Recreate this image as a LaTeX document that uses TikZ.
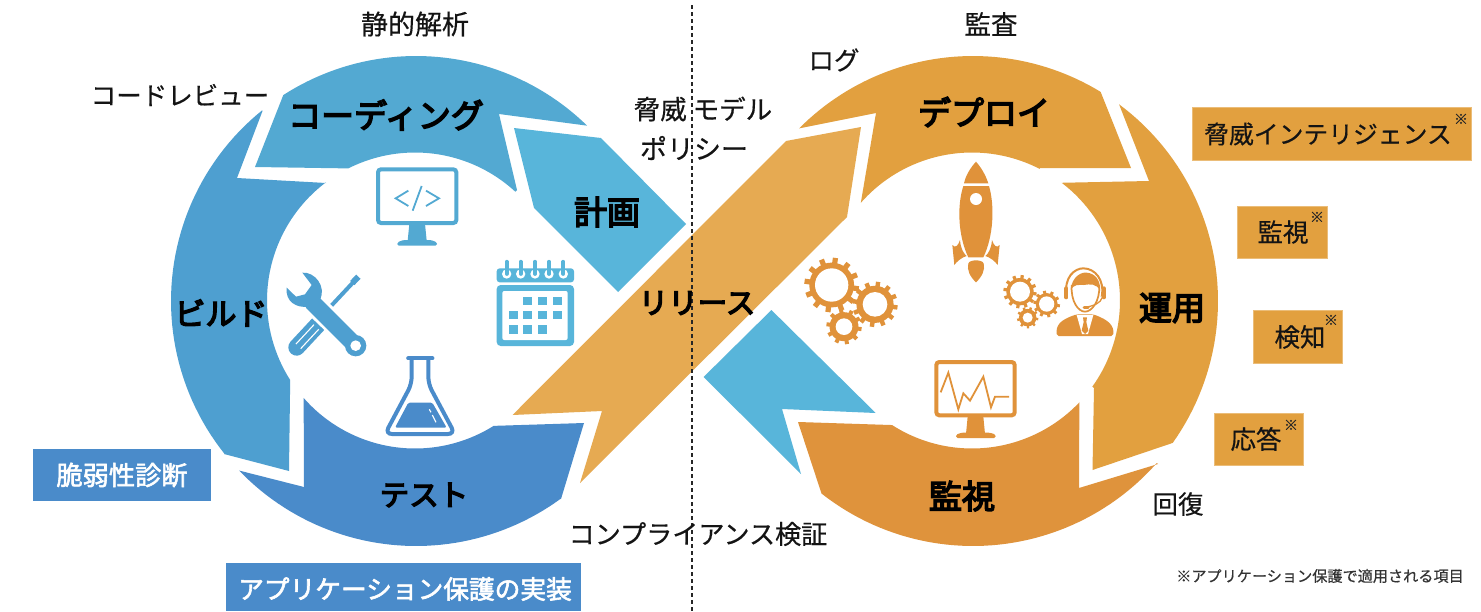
\documentclass[tikz,border=0pt]{standalone}
\usepackage{fontspec}
\setmainfont{Noto Sans CJK JP}[FakeBold=0.4]
\newfontfamily\heavyf{Noto Sans CJK JP}[FakeBold=4.5]
\newfontfamily\midf{Noto Sans CJK JP}[FakeBold=2.2]
\definecolor{cCode}{HTML}{53A9D2}
\definecolor{cBuild}{HTML}{4E9FD0}
\definecolor{cTest}{HTML}{4A8BCA}
\definecolor{cPlan}{HTML}{58B5DA}
\definecolor{cRel}{HTML}{E6AA52}
\definecolor{cDep}{HTML}{E2A03F}
\definecolor{cMon}{HTML}{DF933C}
\definecolor{cIcon}{HTML}{E0923A}
\newcommand\sz[1]{\fontsize{#1}{#1}\selectfont}
\tikzset{
  lab/.style={inner sep=0pt,text=black!92,font=\sz{25.5}},
  main/.style={inner sep=0pt,text=black,font=\heavyf\sz{33}},
  tagbox/.style={fill=cDep,draw=cDep!70!white,line width=0.4pt},
  bluebox/.style={fill=cTest},
  star/.style={inner sep=0pt,text=black!85,font=\sz{14}},
  zCode/.style={shift={(270,160)},x=0.33333pt,y=-0.33333pt},
  zDep/.style={shift={(790,150)},x=0.33333pt,y=-0.33333pt},
  zMan/.style={shift={(1050,260)},x=0.33333pt,y=-0.33333pt},
}
\newcommand\gearicon[6]{%
  \fill[cIcon] (#1,#2) circle[radius=#3*0.82];
  \foreach \i in {1,...,#5}{%
    \pgfmathsetmacro\ang{\i*360/#5+8}
    \draw[cIcon,line width=#6pt] ({#1+#3*0.7*cos(\ang)},{#2+#3*0.7*sin(\ang)}) -- ({#1+#3*cos(\ang)},{#2+#3*sin(\ang)});
  }
  \fill[white] (#1,#2) circle[radius=#4];
}
\begin{document}
\begin{tikzpicture}[x=1pt,y=-1pt]
\fill[white] (0,0) rectangle (1481,611);
\useasboundingbox (0,0) rectangle (1481,611);
% left ring
\fill[cCode] plot[domain=237.2:314.3,samples=50] ({416+245*cos(\x)},{301+245*sin(\x)}) -- (499,114) -- (517,190)
  -- plot[domain=312.7:243.2,samples=40] ({415+148*cos(\x)},{300.5+148*sin(\x)}) -- (255,167) -- cycle;
\fill[cBuild] (262.5,111) -- (237,178) -- (326,183)
  -- plot[domain=232.9:147.5,samples=40] ({415+148*cos(\x)},{300.5+148*sin(\x)}) -- (289,471) -- (224,454)
  -- plot[domain=141.4:231.1,samples=50] ({416+245*cos(\x)},{301+245*sin(\x)}) -- cycle;
\fill[cTest] plot[domain=138.8:57.9,samples=40] ({415+148*cos(\x)},{300.5+148*sin(\x)}) -- (584,423) -- (561,499)
  -- plot[domain=53.8:136.2,samples=50] ({416+245*cos(\x)},{301+245*sin(\x)}) -- (304,487) -- cycle;
\fill[cPlan] (514,128) -- (601,138) -- (686,224) -- (618,292) -- (534,208) -- cycle;
% right ring
\fill[cRel] (512.5,415) -- (786,141) -- (861,127) -- (847,217) -- (580,483) -- (602,411) -- cycle;
\fill[cPlan] (771.4,310) -- (875.7,413) -- (782,409) -- (801,474) -- (703.6,377) -- cycle;
\fill[cDep] plot[domain=224.8:301.4,samples=50] ({973+245*cos(\x)},{301+245*sin(\x)}) -- (1131,168) -- (1040,168)
  -- plot[domain=297.2:221.3,samples=40] ({972+148*cos(\x)},{300.5+148*sin(\x)}) -- (876,113) -- cycle;
\fill[cDep] plot[domain=-53.4:35.4,samples=50] ({973+245*cos(\x)},{301+245*sin(\x)}) -- (1092.5,470) -- (1094,388)
  -- plot[domain=35.6:-52.7,samples=40] ({972+148*cos(\x)},{300.5+148*sin(\x)}) -- (1149,181) -- cycle;
\fill[cMon] (798,422) -- plot[domain=122.7:43.5,samples=40] ({972+148*cos(\x)},{300.5+148*sin(\x)}) -- (1079,488) -- (1158,464)
  -- plot[domain=41.4:128.2,samples=50] ({973+245*cos(\x)},{301+245*sin(\x)}) -- cycle;
% divider
\draw[black!85,line width=1.3pt,dash pattern=on 4pt off 3pt] (692,5) -- (692,611);
% code monitor
\begin{scope}[zCode]
  \draw[cCode,line width=4pt,rounded corners=3pt] (324,28) rectangle (559,189);
  \fill[cCode] (418,192) -- (465,192) -- (470,242) -- (413,242) -- cycle;
  \fill[cCode,rounded corners=1.5pt] (382,257) -- (382,247) -- (400,240) -- (483,240) -- (501,247) -- (501,257) -- cycle;
  \draw[cCode,line width=1.8pt] (415,92) -- (377,115) -- (415,138);
  \draw[cCode,line width=1.8pt] (468,92) -- (507,115) -- (468,138);
  \draw[cCode,line width=1.8pt] (455,78) -- (428,152);
  % calendar
  \fill[cPlan,rounded corners=4pt] (680,375) rectangle (912,558);
  \fill[white,rounded corners=2pt] (697,393) rectangle (893,540);
  \fill[cPlan,rounded corners=3pt] (680,325) rectangle (912,367);
  \foreach \px in {710,752,795,837,880}{
    \fill[white] (\px,342) circle[radius=14];
    \draw[cPlan,line width=3.7pt,line cap=round] (\px,305) -- (\px,342);
  }
  \foreach \px/\py in {773/423,817/423,862/423,730/465,773/465,817/465,862/465,730/509,773/509,817/509}{
    \fill[cPlan] (\px-13,\py-13) rectangle (\px+13,\py+13);
  }
  % screwdriver
  \draw[cBuild,line width=4pt] (258,358) -- (185,436);
  \draw[cBuild,line width=6pt] (265,350) -- (247,369);
  \draw[cBuild,line width=16.7pt,line cap=round] (80,562) -- (147,490);
  \draw[white,line width=1.1pt] (78,552) -- (132,494);
  \draw[white,line width=1.1pt] (92,566) -- (146,508);
  % wrench
  \draw[white,line width=21pt] (120,425) -- (240,540);
  \draw[cBuild,line width=16.7pt] (125,425) -- (257,557);
  \fill[cBuild] (97,338) .. controls (135,335) and (170,380) .. (150,420) -- (115,440)
    .. controls (80,445) and (45,425) .. (50,383) -- (78,410) -- (105,403) -- (125,375) -- cycle;
  \fill[cBuild] (257,557) circle[radius=32];
  \fill[white] (257,557) circle[radius=16];
  % flask
  \draw[cTest,line width=4.3pt,line cap=round] (415,595) -- (487,595);
  \draw[cTest,line width=4pt,rounded corners=7pt] (425,598) -- (425,672) -- (345,822) -- (555,822) -- (475,672) -- (475,598);
  \fill[cTest,rounded corners=1.5pt] (415,728) -- (487,728) -- (530,803) -- (375,803) -- cycle;
  \draw[white,line width=1.1pt] (478,748) -- (483,757);
  \draw[white,line width=1.1pt] (487,765) -- (498,787);
\end{scope}
\begin{scope}[zDep]
  % rocket
  \fill[cIcon] (558,35) .. controls (535,60) and (525,85) .. (522,100) -- (595,100) .. controls (590,85) and (580,60) .. (558,35);
  \fill[cIcon] (520,108) -- (597,108) .. controls (615,170) and (610,260) .. (580,322) -- (535,322) .. controls (505,260) and (500,170) .. (520,108);
  \fill[white] (558,147) circle[radius=18];
  \fill[cIcon] (510,270) .. controls (512,295) and (520,310) .. (530,318) .. controls (515,322) and (500,335) .. (493,345) -- (487,285) .. controls (497,297) and (505,285) .. (510,270);
  \fill[cIcon] (606,270) .. controls (604,295) and (596,310) .. (586,318) .. controls (601,322) and (616,335) .. (623,345) -- (629,285) .. controls (619,297) and (611,285) .. (606,270);
  \fill[cIcon] (558,397) .. controls (540,380) and (530,360) .. (535,340) .. controls (540,328) and (576,328) .. (581,340) .. controls (586,360) and (576,380) .. (558,397);
  % gears
  \gearicon{125}{405}{82}{50}{12}{5.2}
  \gearicon{255}{463}{68}{37}{12}{4.4}
  \gearicon{162}{530}{53}{25}{10}{4}
  \gearicon{690}{425}{50}{30}{12}{3.2}
  \gearicon{770}{462}{40}{23}{10}{3}
  \gearicon{713}{503}{32}{15}{9}{2.4}
  % chart monitor
  \draw[cIcon,line width=4pt,rounded corners=3pt] (439,636) rectangle (674,796);
  \fill[cIcon] (533,800) -- (580,800) -- (585,852) -- (528,852) -- cycle;
  \fill[cIcon,rounded corners=1.5pt] (498,864) -- (498,854) -- (515,848) -- (600,848) -- (617,854) -- (617,864) -- cycle;
  \draw[cIcon,line width=1.8pt] (452,727) -- (475,668) -- (505,778) -- (520,730) -- (540,752) -- (580,680) -- (603,772) -- (615,740) -- (657,740);
\end{scope}
% operator
\begin{scope}[zMan]
  \draw[cIcon,line width=2pt] (50,110) .. controls (40,50) and (75,25) .. (100,25) .. controls (135,25) and (165,60) .. (155,110);
  \draw[cIcon,line width=4pt,line cap=round] (49,85) -- (49,112);
  \draw[cIcon,line width=4pt,line cap=round] (161,85) -- (161,112);
  \draw[cIcon,line width=1.7pt] (65,75) .. controls (62,125) and (85,155) .. (105,155) .. controls (125,155) and (150,125) .. (148,75);
  \fill[cIcon] (62,90) .. controls (65,50) and (95,35) .. (110,38) .. controls (135,40) and (152,60) .. (150,92) .. controls (140,70) and (120,72) .. (100,75) .. controls (85,75) and (72,72) .. (62,90);
  \draw[cIcon,line width=1.3pt] (157,112) .. controls (152,130) and (130,138) .. (105,142);
  \draw[cIcon,line width=3pt,line cap=round] (102,142) -- (114,142);
  \fill[cIcon,rounded corners=2pt] (20,228) .. controls (18,195) and (30,180) .. (80,163) -- (130,163) .. controls (175,180) and (192,195) .. (190,228) -- cycle;
  \fill[white] (80,165) -- (130,165) -- (114,222) -- (96,222) -- cycle;
  \fill[cIcon] (99,172) -- (111,172) -- (109,186) -- (115,212) -- (105,222) -- (95,212) -- (101,186) -- cycle;
\end{scope}
% boxes
\path[bluebox] (33,449) rectangle (211,501);
\path[bluebox] (226,563) rectangle (581,611);
\path[tagbox] (1192,107) rectangle (1471,160);
\path[tagbox] (1237,206) rectangle (1327,258);
\path[tagbox] (1253,310) rectangle (1342,363);
\path[tagbox] (1214,413) rectangle (1303,465);
% stage labels
\node[main] (coding) at (386,115) {コーディング};
\node[main] (plan) at (607,212) {計画};
\node[main,font=\heavyf\sz{31}] (build) at (221,313) {ビルド};
\node[main,font=\heavyf\sz{29.5}] (test) at (424,495) {テスト};
\node[main,font=\heavyf\sz{29.5}] (release) at (697,303) {リリース};
\node[main] (deploy) at (984,112) {デプロイ};
\node[main] (ops) at (1172,308) {運用};
\node[main] (watch) at (962,496) {監視};
% side labels
\node[lab,font=\sz{27}] (static) at (415,24) {静的解析};
\node[lab,font=\sz{26.5}] (audit) at (991,24) {監査};
\node[lab] (log) at (834,60) {ログ};
\node[lab] (review) at (180,95) {コードレビュー};
\node[lab,font=\sz{26.5}] (threat) at (703,109) {脅威 モデル};
\node[lab,font=\sz{27}] (policy) at (694,148) {ポリシー};
\node[lab,font=\sz{26.1}] (comp) at (698,534) {コンプライアンス検証};
\node[lab] (recover) at (1178,504) {回復};
\node[lab,text=white,font=\midf\sz{26.2}] (vuln) at (122,475) {脆弱性診断};
\node[lab,text=white,font=\midf\sz{25.7}] (appprot) at (405,589) {アプリケーション保護の実装};
\node[lab,font=\sz{24.8}] (intel) at (1328,134) {脅威インテリジェンス};
\node[lab] (mon2) at (1283,232) {監視};
\node[lab] (detect) at (1300,337) {検知};
\node[lab] (respond) at (1256,439) {応答};
\node[star] (s1) at (1461,119) {※};
\node[star] (s2) at (1317,217) {※};
\node[star] (s3) at (1331,320) {※};
\node[star] (s4) at (1291,425) {※};
\node[lab,font=\sz{15.15},text=black!80] (foot) at (1320,576) {※アプリケーション保護で適用される項目};
\end{tikzpicture}
\end{document}
